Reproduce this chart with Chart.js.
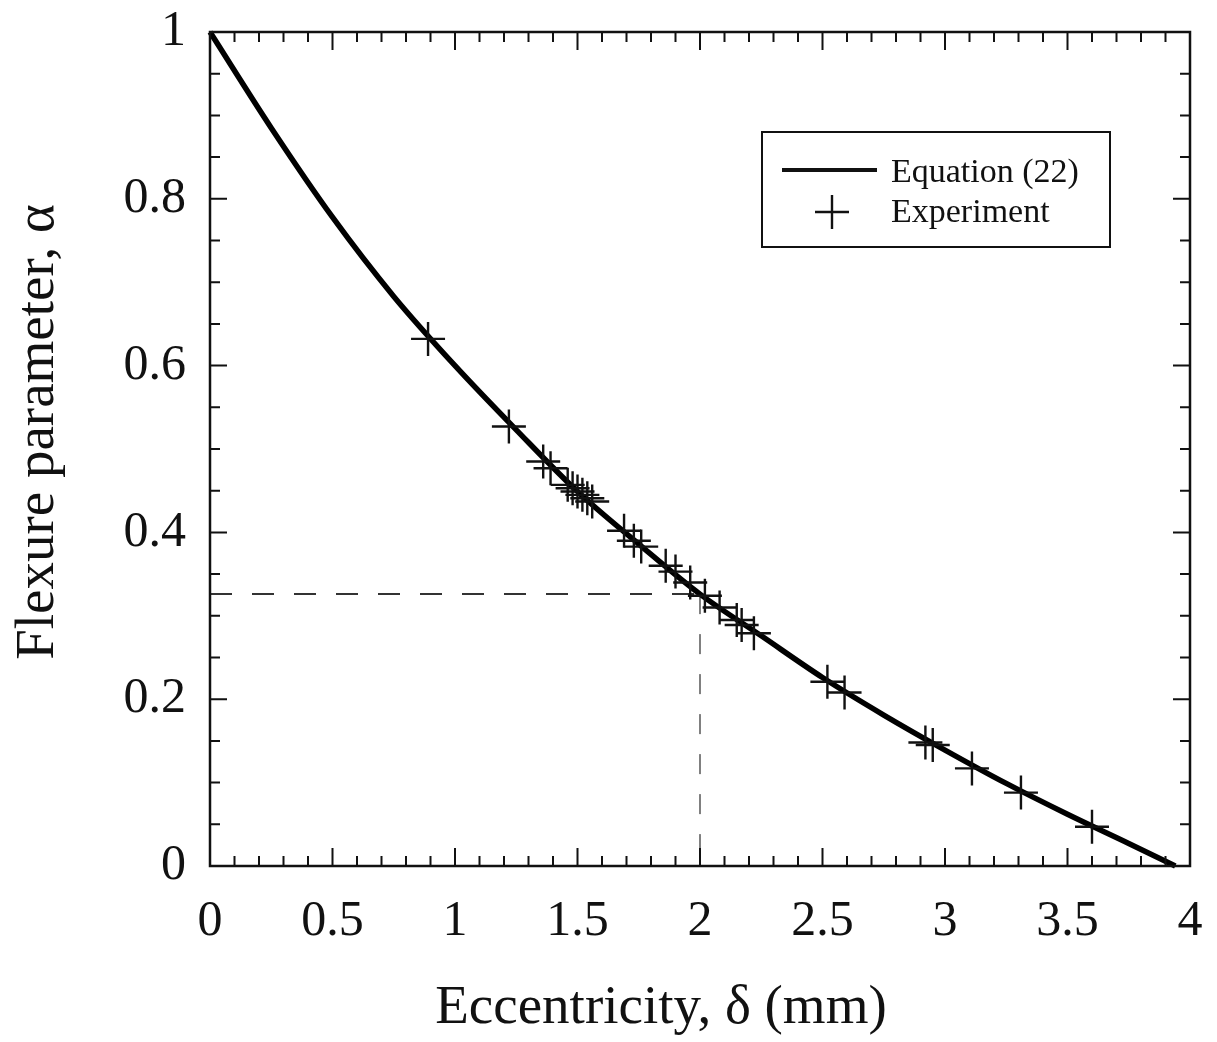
<!DOCTYPE html>
<html>
<head>
<meta charset="utf-8">
<script src="https://cdn.jsdelivr.net/npm/chart.js@4.4.1/dist/chart.umd.min.js"></script>
<style>
  html, body { margin: 0; padding: 0; background: #ffffff; }
  #wrap { width: 1217px; height: 1042px; }
</style>
</head>
<body>
<div id="wrap"><canvas id="c" width="1217" height="1042"></canvas></div>
<script>
// ---- data ----
const curveX = [0, 0.25, 0.5, 0.75, 1.0, 1.25, 1.5, 1.75, 2.0, 2.25, 2.5, 2.75, 3.0, 3.25, 3.5, 3.75, 3.94];
const curveY = [1.0, 0.885, 0.778, 0.683, 0.600, 0.523, 0.449, 0.386, 0.326, 0.276, 0.226, 0.181, 0.139, 0.099, 0.062, 0.027, 0.0];

const expX = [0.89, 1.22, 1.36, 1.39, 1.46, 1.48, 1.50, 1.52, 1.54, 1.56, 1.69, 1.73, 1.76, 1.86, 1.90, 1.96, 2.02, 2.08, 2.15, 2.17, 2.22, 2.52, 2.59, 2.92, 2.95, 3.11, 3.31, 3.60];
const expY = [0.632, 0.527, 0.485, 0.477, 0.457, 0.453, 0.449, 0.445, 0.441, 0.437, 0.402, 0.390, 0.383, 0.360, 0.353, 0.340, 0.324, 0.310, 0.295, 0.289, 0.279, 0.221, 0.208, 0.148, 0.145, 0.117, 0.088, 0.047];

const guideHX = [0, 2];
const guideHY = [0.326, 0.326];
const guideVX = [2, 2];
const guideVY = [0.326, 0];

const xTickValues = [0, 0.5, 1, 1.5, 2, 2.5, 3, 3.5, 4];
const xTickLabels = ['0', '0.5', '1', '1.5', '2', '2.5', '3', '3.5', '4'];
const yTickValues = [0, 0.2, 0.4, 0.6, 0.8, 1];
const yTickLabels = ['0', '0.2', '0.4', '0.6', '0.8', '1'];

const xTitle = 'Eccentricity, \u03B4 (mm)';
const yTitle = 'Flexure parameter, \u03B1';
const legendLabels = ['Equation (22)', 'Experiment'];

// ---- helpers ----
const zip = (xs, ys) => xs.map((x, i) => ({ x: x, y: ys[i] }));
const SERIF = '"Liberation Serif", "DejaVu Serif", serif';

const frameAndTicks = {
  id: 'frameAndTicks',
  afterDatasetsDraw(chart) {
    const ctx = chart.ctx;
    const a = chart.chartArea;
    const xs = chart.scales.x, ys = chart.scales.y;
    ctx.save();
    ctx.strokeStyle = '#111';
    ctx.lineWidth = 2;
    for (let i = 0; i <= 40; i++) {
      const v = i / 10;
      const px = xs.getPixelForValue(v);
      const len = (i % 5 === 0) ? 18 : 10;
      ctx.beginPath();
      ctx.moveTo(px, a.bottom); ctx.lineTo(px, a.bottom - len);
      ctx.moveTo(px, a.top); ctx.lineTo(px, a.top + len);
      ctx.stroke();
    }
    for (let i = 0; i <= 20; i++) {
      const v = i / 20;
      const py = ys.getPixelForValue(v);
      const len = (i % 4 === 0) ? 17 : 10;
      ctx.beginPath();
      ctx.moveTo(a.left, py); ctx.lineTo(a.left + len, py);
      ctx.moveTo(a.right, py); ctx.lineTo(a.right - len, py);
      ctx.stroke();
    }
    ctx.lineWidth = 2.5;
    ctx.strokeRect(a.left, a.top, a.right - a.left, a.bottom - a.top);
    ctx.restore();
  },
  afterDraw(chart) {
    const ctx = chart.ctx;
    ctx.save();
    // axis titles
    ctx.fillStyle = '#111';
    ctx.font = '55px ' + SERIF;
    ctx.textAlign = 'center';
    ctx.textBaseline = 'alphabetic';
    ctx.fillText(xTitle, 661, 1023);
    ctx.save();
    ctx.translate(53, 432);
    ctx.rotate(-Math.PI / 2);
    ctx.fillText(yTitle, 0, 0);
    ctx.restore();
    // legend
    ctx.strokeStyle = '#111';
    ctx.lineWidth = 2;
    ctx.strokeRect(762, 132, 348, 115);
    ctx.lineWidth = 4;
    ctx.beginPath(); ctx.moveTo(782, 170); ctx.lineTo(877, 170); ctx.stroke();
    ctx.lineWidth = 2.4;
    ctx.beginPath();
    ctx.moveTo(815, 212); ctx.lineTo(849, 212);
    ctx.moveTo(832, 195); ctx.lineTo(832, 229);
    ctx.stroke();
    ctx.font = '34px ' + SERIF;
    ctx.textAlign = 'left';
    ctx.fillText(legendLabels[0], 891, 182);
    ctx.fillText(legendLabels[1], 891, 222);
    ctx.restore();
  }
};

Chart.defaults.font.family = SERIF;
Chart.defaults.color = '#111';

new Chart(document.getElementById('c'), {
  type: 'scatter',
  data: {
    datasets: [
      {
        label: 'guideH',
        data: zip(guideHX, guideHY),
        showLine: true,
        borderColor: '#333',
        borderWidth: 2,
        borderDash: [22, 20],
        pointRadius: 0,
        order: 3
      },
      {
        label: 'guideV',
        data: zip(guideVX, guideVY),
        showLine: true,
        borderColor: '#808080',
        borderWidth: 2,
        borderDash: [20, 20],
        pointRadius: 0,
        order: 3
      },
      {
        label: legendLabels[0],
        data: zip(curveX, curveY),
        showLine: true,
        borderColor: '#000',
        borderWidth: 5.5,
        cubicInterpolationMode: 'monotone',
        pointRadius: 0,
        clip: false,
        order: 2
      },
      {
        label: legendLabels[1],
        data: zip(expX, expY),
        showLine: false,
        pointStyle: 'cross',
        pointRadius: 17,
        pointHoverRadius: 17,
        pointBorderWidth: 2.4,
        pointBorderColor: '#111',
        borderColor: '#111',
        order: 1
      }
    ]
  },
  options: {
    responsive: false,
    animation: false,
    devicePixelRatio: 1,
    layout: { padding: { top: 32, right: 27, left: 0, bottom: 0 } },
    plugins: {
      legend: { display: false },
      tooltip: { enabled: false }
    },
    scales: {
      x: {
        type: 'linear',
        min: 0, max: 4,
        grid: { display: false, drawTicks: false },
        border: { display: false },
        afterBuildTicks: (s) => { s.ticks = xTickValues.map(v => ({ value: v })); },
        afterFit: (s) => { s.height = 176; s.paddingLeft = 0; s.paddingRight = 0; },
        ticks: {
          padding: 26,
          font: { size: 50 },
          color: '#111',
          maxRotation: 0,
          autoSkip: false,
          callback: (v) => { const i = xTickValues.indexOf(v); return i >= 0 ? xTickLabels[i] : ''; }
        },
        title: { display: false, text: xTitle }
      },
      y: {
        type: 'linear',
        min: 0, max: 1,
        grid: { display: false, drawTicks: false },
        border: { display: false },
        afterBuildTicks: (s) => { s.ticks = yTickValues.map(v => ({ value: v })); },
        afterFit: (s) => { s.width = 210; s.paddingTop = 0; s.paddingBottom = 0; },
        ticks: {
          padding: 24,
          font: { size: 50 },
          color: '#111',
          autoSkip: false,
          callback: (v) => { const i = yTickValues.indexOf(v); return i >= 0 ? yTickLabels[i] : ''; }
        },
        title: { display: false, text: yTitle }
      }
    }
  },
  plugins: [frameAndTicks]
});
</script>
</body>
</html>
